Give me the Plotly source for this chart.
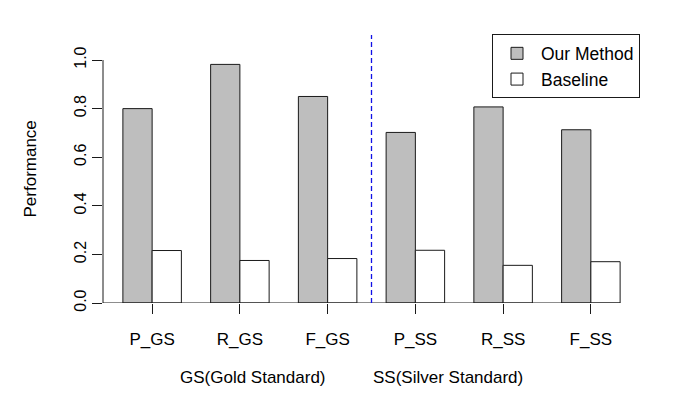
import plotly.graph_objects as go

categories = ["P_GS", "R_GS", "F_GS", "P_SS", "R_SS", "F_SS"]
our_method = [0.80, 0.982, 0.85, 0.702, 0.807, 0.713]
baseline = [0.216, 0.175, 0.183, 0.217, 0.155, 0.170]
series_names = ["Our Method", "Baseline"]
y_ticks = [0.0, 0.2, 0.4, 0.6, 0.8, 1.0]
group_labels = ["GS(Gold Standard)", "SS(Silver Standard)"]

FONT = "Liberation Sans, Arial, Helvetica, sans-serif"
OFF = 8  # default page body margin
W, H = 685 - OFF, 405 - OFF
L, R, T, B = 103.4 - OFF, 45.4, 35.0 - OFF, 102.3

fig = go.Figure()
fig.add_trace(go.Bar(x=categories, y=our_method, name=series_names[0],
                     marker=dict(color="#bebebe", line=dict(color="#1a1a1a", width=1))))
fig.add_trace(go.Bar(x=categories, y=baseline, name=series_names[1],
                     marker=dict(color="white", line=dict(color="#1a1a1a", width=1))))

n = len(categories)
# category c <-> R unit u : c = (u-2)/3 ; plot region u in [0.32, 18.68]
xmin, xmax = (0.32 - 2) / 3, (18.68 - 2) / 3
ytop = 1.103

shapes = [
    dict(type="line", xref="x", yref="y", x0=xmin, x1=(18 - 2) / 3, y0=0, y1=0,
         line=dict(color="#1a1a1a", width=1)),
    dict(type="line", xref="paper", yref="y", x0=0, x1=0, y0=y_ticks[0], y1=y_ticks[-1],
         line=dict(color="#1a1a1a", width=1)),
    dict(type="line", xref="x", yref="y", x0=(n - 1) / 2, x1=(n - 1) / 2, y0=0, y1=ytop,
         line=dict(color="#1010e6", width=1.3, dash="5px,3px")),
]

pw = W - L - R
ph = H - T - B
gy = -(377 - OFF - (T + ph)) / ph
annotations = [
    dict(text="Performance", xref="paper", yref="paper", x=(31 - OFF - L) / pw, y=0.5,
         textangle=-90, showarrow=False, xanchor="center", yanchor="middle",
         font=dict(size=17, color="black", family=FONT)),
    dict(text=group_labels[0], xref="paper", yref="paper", x=(253 - OFF - L) / pw,
         y=gy, showarrow=False, xanchor="center", yanchor="middle",
         font=dict(size=17, color="black", family=FONT)),
    dict(text=group_labels[1], xref="paper", yref="paper", x=(448 - OFF - L) / pw,
         y=gy, showarrow=False, xanchor="center", yanchor="middle",
         font=dict(size=17, color="black", family=FONT)),
]

fig.update_layout(
    width=W, height=H,
    margin=dict(l=L, r=R, t=T, b=B, pad=0),
    paper_bgcolor="white", plot_bgcolor="white",
    barmode="group", bargap=1 / 3, bargroupgap=0,
    font=dict(family=FONT, size=17, color="black"),
    shapes=shapes, annotations=annotations,
    legend=dict(x=1, y=1.002, xanchor="right", yanchor="top", bgcolor="white",
                bordercolor="#1a1a1a", borderwidth=1, font=dict(size=17.5, color="black"),
                traceorder="normal", itemwidth=38),
    showlegend=True,
)
fig.update_xaxes(range=[xmin, xmax], showgrid=False, zeroline=False, showline=False,
                 ticks="outside", ticklen=10, tickwidth=1, tickcolor="#1a1a1a",
                 ticklabelstandoff=11,
                 tickfont=dict(size=17, color="black", family=FONT))
fig.update_yaxes(range=[0, ytop], showgrid=False, zeroline=False, showline=False,
                 tickvals=y_ticks, ticktext=[f"{v:.1f}" for v in y_ticks],
                 ticks="outside", ticklen=10, tickwidth=1, tickcolor="#1a1a1a",
                 tickangle=-90, tickfont=dict(size=16, color="black", family=FONT))

fig.write_html("out.html")
